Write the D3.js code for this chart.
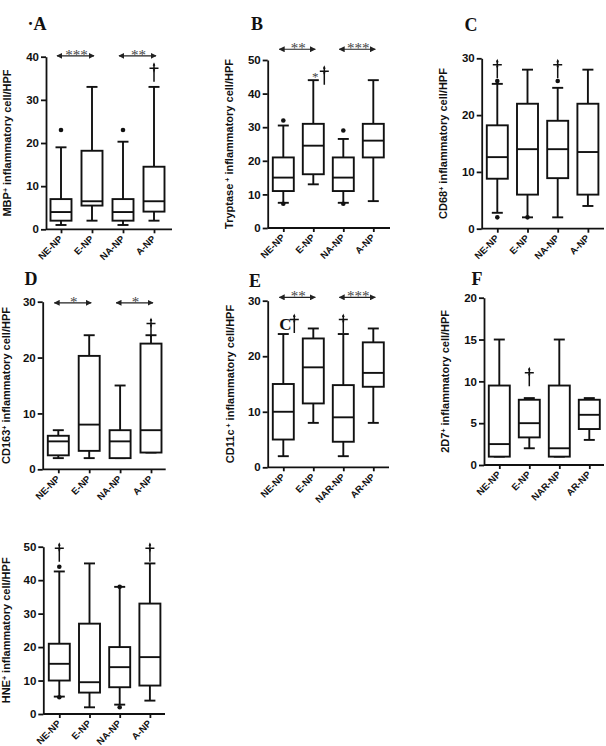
<!DOCTYPE html>
<html>
<head>
<meta charset="utf-8">
<script src="https://cdn.jsdelivr.net/npm/d3@7"></script>
<style>
  body { margin: 0; background: #fff; }
  svg { display: block; }
  .axis text { font-family: "Liberation Sans", Arial, sans-serif; font-weight: bold; fill: #111; }
  .axis path, .axis line { stroke: #111; stroke-width: 1.8; }
</style>
</head>
<body>
<svg id="chart" width="606" height="746"></svg>
<script>
// categories
const catsNA = ["NE-NP", "E-NP", "NA-NP", "A-NP"];
const catsNAR = ["NE-NP", "E-NP", "NAR-NP", "AR-NP"];

// tick values
const ticks20 = [0, 5, 10, 15, 20];
const ticks30 = [0, 10, 20, 30];
const ticks40 = [0, 10, 20, 30, 40];
const ticks50 = [0, 10, 20, 30, 40, 50];

// box stats per group: [low whisker, q1, median, q3, high whisker]
const mbpBoxes = [[1, 2, 4, 7, 19], [2, 5.5, 6.5, 18.2, 33], [1, 2, 4, 7, 20.3], [2, 4.1, 6.5, 14.5, 33]];
const tryptaseBoxes = [[7.5, 11, 15, 21, 30.5], [13, 16, 24.5, 31, 44], [7.5, 11, 15, 21, 26.5], [8, 21, 26, 31, 44]];
const cd68Boxes = [[2.8, 8.8, 12.6, 18.2, 25.5], [2, 6, 14, 22, 28], [2, 8.9, 14, 19, 24.8], [4, 6, 13.5, 22, 28]];
const cd163Boxes = [[2, 2.5, 5, 6, 7], [2, 3.3, 8, 20.3, 24], [2, 2, 5, 7, 15], [3, 3, 7, 22.5, 24]];
const cd11cBoxes = [[2, 5, 10, 15, 24], [8, 11.5, 18, 23.2, 25], [2, 4.6, 9, 14.8, 24], [8, 14.5, 17, 22.5, 25]];
const d7Boxes = [[1, 1, 2.5, 9.5, 15], [2, 3.3, 5, 7.8, 8], [1, 1, 2, 9.5, 15], [3, 4.3, 6, 7.8, 8]];
const hneBoxes = [[5.2, 10, 15, 21, 42.6], [2, 6.4, 9.5, 27, 45], [2.8, 8, 14, 20, 38], [4, 8.5, 17, 33, 45]];

// outliers: [group index, value]
const mbpOutliers = [[0, 23], [2, 23]];
const tryptaseOutliers = [[0, 32], [0, 7.2], [2, 29], [2, 7.2]];
const cd68Outliers = [[0, 26], [0, 2], [1, 2], [2, 26]];
const cd163Outliers = [];
const cd11cOutliers = [];
const d7Outliers = [];
const hneOutliers = [[0, 44], [0, 5], [2, 38], [2, 2]];

// dagger marks: [group index, value at dagger foot, prefix]
const mbpDaggers = [[3, 34.2, ""]];
const tryptaseDaggers = [[1, 42.6, "*"]];
const cd68Daggers = [[0, 26.5, ""], [2, 26.5, ""]];
const cd163Daggers = [[3, 23.7, ""]];
const cd11cDaggers = [[0, 24.2, "C"], [2, 24.2, ""]];
const d7Daggers = [[1, 9.4, ""]];
const hneDaggers = [[0, 45.5, ""], [3, 45.5, ""]];

// significance arrows: [from group, to group, stars, value]
const mbpSig = [[0, 1, "***", 40.2], [2, 3, "**", 40.2]];
const tryptaseSig = [[0, 1, "**", 53.2], [2, 3, "***", 53.2]];
const cd163Sig = [[0, 1, "*", 29.8], [2, 3, "*", 29.8]];
const cd11cSig = [[0, 1, "**", 30.6], [2, 3, "***", 30.6]];

const panels = [
  { letter: "·A", lx: 37, ly: 30, marker: "MBP", sup: "+", ylx: 7, cats: catsNA, boxes: mbpBoxes, outliers: mbpOutliers,
    daggers: mbpDaggers, sig: mbpSig, max: 40, ticks: ticks40, ax: 46, top: 56.7, bottom: 229.3, right: 172, first: 61, gap: 31 },
  { letter: "B", lx: 257, ly: 30, marker: "Tryptase", sup: " +", ylx: 229, cats: catsNA, boxes: tryptaseBoxes, outliers: tryptaseOutliers,
    daggers: tryptaseDaggers, sig: tryptaseSig, max: 50, ticks: ticks50, ax: 267.7, top: 60, bottom: 228, right: 390, first: 283.3, gap: 30 },
  { letter: "C", lx: 471, ly: 31, marker: "CD68", sup: "+", ylx: 443, cats: catsNA, boxes: cd68Boxes, outliers: cd68Outliers,
    daggers: cd68Daggers, sig: [], max: 30, ticks: ticks30, ax: 481.7, top: 58.3, bottom: 228.7, right: 604, first: 497.3, gap: 30.2 },
  { letter: "D", lx: 31, ly: 285, marker: "CD163", sup: "+", ylx: 6, cats: catsNA, boxes: cd163Boxes, outliers: cd163Outliers,
    daggers: cd163Daggers, sig: cd163Sig, max: 30, ticks: ticks30, ax: 42.7, top: 301.7, bottom: 469.3, right: 165.7, first: 58.3, gap: 30.9 },
  { letter: "E", lx: 255, ly: 287, marker: "CD11c", sup: " +", ylx: 230, cats: catsNAR, boxes: cd11cBoxes, outliers: cd11cOutliers,
    daggers: cd11cDaggers, sig: cd11cSig, max: 30, ticks: ticks30, ax: 267.7, top: 300.7, bottom: 467.3, right: 389, first: 283.3, gap: 30 },
  { letter: "F", lx: 477, ly: 285, marker: "2D7", sup: "+", ylx: 445, cats: catsNAR, boxes: d7Boxes, outliers: d7Outliers,
    daggers: d7Daggers, sig: [], max: 20, ticks: ticks20, ax: 484, top: 297.7, bottom: 465, right: 604, first: 499.3, gap: 30 },
  { letter: "", lx: 0, ly: 0, marker: "HNE", sup: "+", ylx: 6, cats: catsNA, boxes: hneBoxes, outliers: hneOutliers,
    daggers: hneDaggers, sig: [], max: 50, ticks: ticks50, ax: 43.3, top: 546.7, bottom: 714, right: 165, first: 59.3, gap: 30.2 }
];

const svg = d3.select("#chart");

svg.append("defs").append("marker")
  .attr("id", "arr")
  .attr("viewBox", "0 0 10 10")
  .attr("refX", 9).attr("refY", 5)
  .attr("markerWidth", 6).attr("markerHeight", 6)
  .attr("markerUnits", "userSpaceOnUse")
  .attr("orient", "auto-start-reverse")
  .append("path")
  .attr("d", "M0,0L10,5L0,10z")
  .attr("fill", "#222");

panels.forEach(drawPanel);

function drawPanel(p) {
  const g = svg.append("g");
  const y = d3.scaleLinear().domain([0, p.max]).range([p.bottom, p.top]);
  const x = d3.scalePoint().domain(p.cats).range([p.first, p.first + 3 * p.gap]);
  const boxW = 21, capW = 11;

  // y axis
  g.append("g")
    .attr("class", "axis")
    .attr("transform", `translate(${p.ax},0)`)
    .call(d3.axisLeft(y).tickValues(p.ticks).tickSize(5).tickSizeOuter(0).tickPadding(2))
    .selectAll("text").style("font-size", "11.5px");

  // x axis
  const xa = g.append("g")
    .attr("class", "axis")
    .attr("transform", `translate(0,${p.bottom})`)
    .call(d3.axisBottom(x).tickSize(4).tickSizeOuter(0));
  xa.select(".domain").attr("d", `M${p.ax},0H${p.right}`);
  xa.selectAll("text")
    .style("font-size", "9.5px")
    .style("text-anchor", "end")
    .attr("x", -6)
    .attr("y", 5)
    .attr("dy", "0.35em")
    .attr("transform", "rotate(-45)");

  // y label
  const yl = g.append("text")
    .attr("transform", `translate(${p.ylx},${(p.top + p.bottom) / 2}) rotate(-90)`)
    .attr("text-anchor", "middle")
    .attr("dy", "0.35em")
    .style("font-family", "Liberation Sans, Arial, sans-serif")
    .style("font-weight", "bold")
    .style("font-size", "11px")
    .attr("fill", "#111");
  yl.append("tspan").text(p.marker);
  yl.append("tspan").text(p.sup).attr("baseline-shift", "super").style("font-size", "7px");
  yl.append("tspan").text(" inflammatory cell/HPF");

  // panel letter
  if (p.letter) {
    g.append("text")
      .attr("x", p.lx).attr("y", p.ly)
      .attr("text-anchor", "middle")
      .style("font-family", "Liberation Serif, Times New Roman, serif")
      .style("font-weight", "bold")
      .style("font-size", "18px")
      .attr("fill", "#111")
      .text(p.letter);
  }

  // boxes
  const bx = g.selectAll("g.box")
    .data(p.boxes)
    .join("g")
    .attr("class", "box")
    .attr("transform", (d, i) => `translate(${x(p.cats[i])},0)`)
    .attr("stroke", "#111")
    .attr("stroke-width", 1.9)
    .attr("fill", "none");

  bx.append("line").attr("x1", 0).attr("x2", 0).attr("y1", d => y(d[0])).attr("y2", d => y(d[1]));
  bx.append("line").attr("x1", 0).attr("x2", 0).attr("y1", d => y(d[3])).attr("y2", d => y(d[4]));
  bx.append("line").attr("x1", -capW / 2).attr("x2", capW / 2).attr("y1", d => y(d[0])).attr("y2", d => y(d[0]));
  bx.append("line").attr("x1", -capW / 2).attr("x2", capW / 2).attr("y1", d => y(d[4])).attr("y2", d => y(d[4]));
  bx.append("rect")
    .attr("x", -boxW / 2).attr("width", boxW)
    .attr("y", d => y(d[3]))
    .attr("height", d => Math.max(0, y(d[1]) - y(d[3])))
    .attr("fill", "#fff");
  bx.append("line").attr("x1", -boxW / 2).attr("x2", boxW / 2).attr("y1", d => y(d[2])).attr("y2", d => y(d[2]));

  // outliers
  g.selectAll("circle.out")
    .data(p.outliers)
    .join("circle")
    .attr("class", "out")
    .attr("cx", d => x(p.cats[d[0]]))
    .attr("cy", d => y(d[1]))
    .attr("r", 2.3)
    .attr("fill", "#111");

  // daggers drawn as paths: long stem, crossbar near the top
  const dg = g.selectAll("g.dag")
    .data(p.daggers)
    .join("g")
    .attr("class", "dag")
    .attr("transform", d => `translate(${x(p.cats[d[0]]) + (d[2] ? 11 : 0)},${y(d[1])})`);
  dg.append("path")
    .attr("d", "M0,0V-18M-4.5,-13.5H4.5")
    .attr("stroke", "#111")
    .attr("stroke-width", 1.5)
    .attr("fill", "none");
  dg.append("path")
    .attr("d", "M-1.3,-16L0,-19.5L1.3,-16Z M-1.2,-12.5L0,-9L1.2,-12.5Z")
    .attr("fill", "#111");
  dg.filter(d => d[2])
    .append("text")
    .attr("x", -9)
    .attr("y", d => d[2] === "*" ? -4 : -3)
    .attr("text-anchor", "middle")
    .style("font-family", "Liberation Serif, Times New Roman, serif")
    .style("font-weight", d => d[2] === "*" ? "normal" : "bold")
    .style("font-size", d => d[2] === "*" ? "13px" : "17px")
    .attr("fill", d => d[2] === "*" ? "#444" : "#111")
    .text(d => d[2]);

  // significance arrows
  const sg = g.selectAll("g.sig")
    .data(p.sig)
    .join("g")
    .attr("class", "sig");
  sg.append("line")
    .attr("x1", d => x(p.cats[d[0]]) - 4)
    .attr("x2", d => x(p.cats[d[1]]) + 2)
    .attr("y1", d => y(d[3]))
    .attr("y2", d => y(d[3]))
    .attr("stroke", "#222")
    .attr("stroke-width", 1.2)
    .attr("marker-start", "url(#arr)")
    .attr("marker-end", "url(#arr)");
  sg.append("text")
    .attr("x", d => (x(p.cats[d[0]]) + x(p.cats[d[1]])) / 2)
    .attr("y", d => y(d[3]) + 4)
    .attr("text-anchor", "middle")
    .style("font-family", "Liberation Serif, Times New Roman, serif")
    .style("font-size", "15px")
    .attr("fill", "#444")
    .text(d => d[2]);
}
</script>
</body>
</html>
